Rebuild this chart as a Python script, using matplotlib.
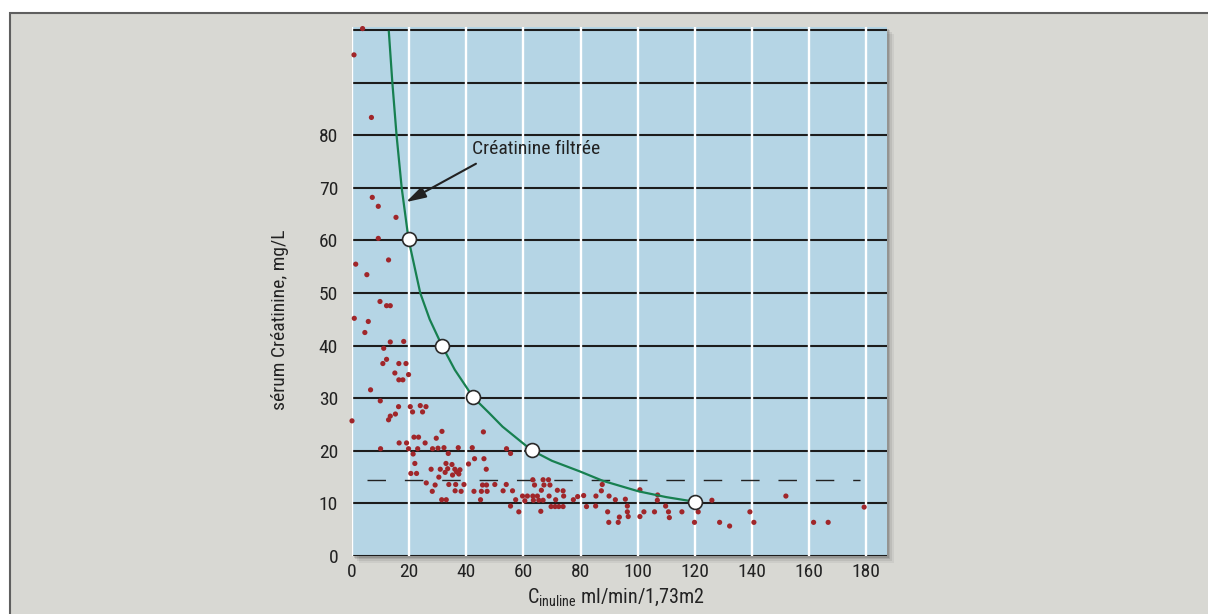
import matplotlib
matplotlib.use("Agg")
import matplotlib.pyplot as plt
from matplotlib import font_manager
from matplotlib.patches import Rectangle

# pick a narrow sans if one is installed, else fall back
installed = {f.name for f in font_manager.fontManager.ttflist}
narrow = None
for cand in ['Liberation Sans Narrow', 'Roboto Condensed', 'Arial Narrow',
             'Open Sans Condensed', 'Noto Sans Display', 'Roboto', 'Liberation Sans']:
    if cand in installed:
        narrow = cand
        break
if narrow is None:
    narrow = 'DejaVu Sans'
plt.rcParams['font.family'] = [narrow, 'DejaVu Sans']
plt.rcParams['font.stretch'] = 'condensed'
plt.rcParams['mathtext.fontset'] = 'custom'
plt.rcParams['mathtext.rm'] = narrow

# patients: inulin clearance (ml/min/1,73m2) vs serum creatinine (mg/L)
clearance = [
    3.7, 0.7, 6.8, 7.1, 9.2, 15.4,
    9.2, 1.3, 12.8, 5.2, 9.8, 12.1, 13.4, 0.8, 5.7, 4.5, 13.4, 18.1, 11.1, 12.1,
    10.8, 16.4, 18.9, 15.0, 19.8, 16.4, 17.8, 6.5, 9.9, 16.3, 20.4, 23.9, 25.9,
    21.2, 24.7, 15.2, 13.4, 12.8, 0.0, 46.0, 31.5, 21.7, 23.3, 29.5, 16.5, 19.1,
    25.6, 10.0, 19.8, 23.0, 28.2, 30.1, 32.2, 37.2, 42.1, 33.7, 21.4, 42.9, 46.2,
    22.0, 32.9, 35.0, 40.8, 27.7, 30.9, 33.5, 36.0, 37.8, 47.0, 32.6, 36.6, 20.6,
    22.6, 35.2, 37.4, 30.4, 26.0, 29.1, 33.9, 36.3, 39.2, 45.7, 47.1, 50.0, 42.7,
    45.3, 47.3, 28.1, 36.1, 38.2, 45.0, 31.4, 33.0,
    54.1, 55.5, 54.0, 52.9, 56.2, 57.3, 55.5, 58.4, 59.7, 60.5, 61.4, 63.3, 63.9,
    63.3, 63.5, 64.9, 65.4, 66.9, 68.8, 67.2, 69.3, 66.3, 66.9, 69.0, 71.9, 73.9,
    74.1, 71.3, 66.1, 69.7, 71.1, 72.4, 73.9, 77.5, 79.0, 81.1, 82.1, 85.3, 85.4,
    87.6, 87.3, 90.0, 92.2, 89.5, 89.9, 93.6, 93.2, 95.7, 96.4, 96.4, 96.7, 100.8,
    100.8, 102.2, 105.9, 107.0, 106.9, 109.8, 110.8, 111.1, 115.5,
    121.0, 121.2, 119.9, 126.0, 128.7, 132.2, 139.3, 140.7, 151.9, 161.6, 166.7,
    179.3,
]
creatinine = [
    100.3, 95.3, 83.4, 68.2, 66.5, 64.4,
    60.4, 55.5, 56.3, 53.5, 48.4, 47.6, 47.6, 45.2, 44.6, 42.5, 40.7, 40.8, 39.5,
    37.4, 36.6, 36.6, 36.6, 34.8, 34.5, 33.5, 33.5, 31.6, 29.5, 28.4, 28.4, 28.6,
    28.4,
    27.4, 27.4, 27.0, 26.6, 25.9, 25.7, 23.6, 23.7, 22.6, 22.6, 22.4, 21.5, 21.5,
    21.5, 20.4, 20.4, 20.4, 20.4, 20.5, 20.6, 20.6, 20.6, 19.5, 19.4, 18.5, 18.5,
    17.6, 17.6, 17.4, 17.5, 16.5, 16.5, 16.6, 16.5, 16.4, 16.5, 15.9, 16.0, 15.7,
    15.7, 15.4, 15.6, 15.0, 13.9, 13.5, 13.6, 13.6, 13.6, 13.5, 13.5, 13.6, 12.3,
    12.3, 12.3, 12.3, 12.4, 12.3, 10.7, 10.7, 10.7,
    20.4, 19.5, 13.6, 12.4, 12.4, 10.7, 9.5, 8.4, 11.4, 10.5, 11.4, 14.5, 13.5,
    11.4, 10.6, 11.4, 10.6, 14.5, 14.5, 13.5, 13.5, 12.5, 10.6, 11.4, 12.5, 12.4,
    11.4, 10.7, 8.5, 9.4, 9.4, 9.4, 9.4, 10.7, 11.3, 11.5, 9.4, 9.5, 11.4,
    13.6, 12.4, 11.4, 10.7, 8.4, 6.4, 7.4, 6.4, 10.8, 9.5, 8.4, 7.5, 12.6,
    7.5, 8.4, 8.4, 11.6, 10.6, 9.5, 8.4, 7.3, 8.4,
    9.4, 8.4, 6.4, 10.6, 6.4, 5.7, 8.4, 6.4, 11.4, 6.4, 6.4,
    9.3,
]

# filtered creatinine curve
curve_x = [12.9, 14.1, 15.6, 17.4, 19.8, 23.9, 27.2, 31.5, 36.0, 42.4, 48.0,
           52.7, 62.9, 70.0, 79.7, 87.8, 100.3, 110.0, 120.2]
curve_y = [99.7, 90.2, 80.0, 70.0, 60.2, 50.0, 45.0, 40.0, 35.4, 30.2, 27.2,
           24.6, 20.1, 18.1, 16.1, 14.3, 12.3, 11.2, 10.3]
circle_x = [19.8, 31.5, 42.4, 62.9, 120.2]
circle_y = [60.2, 40.0, 30.2, 20.1, 10.3]

threshold = 14.4
threshold_range = [5.4, 178.0]

x_grid = list(range(0, 181, 20))
y_grid = list(range(0, 101, 10))
y_labels = [str(v) if v <= 80 else '' for v in y_grid]

W, H = 1208, 614
fig = plt.figure(figsize=(W / 100, H / 100), dpi=100)
fig.patch.set_facecolor('white')

# grey panel with dark border on top/left
fig.patches.append(Rectangle((9.5 / W, -0.05), 1.2, 1 - 12.5 / H + 0.05,
                             transform=fig.transFigure, fc='#d8d8d3',
                             ec='#5f5f5f', lw=1.5, zorder=-10))

left, right, top, bottom = 352, 887, 27, 556
# soft drop shadow
for off, a in [(7, 0.05), (5, 0.07), (3, 0.10), (1.5, 0.12)]:
    fig.patches.append(Rectangle(((left + off) / W, 1 - (bottom + off) / H),
                                 (right - left) / W, (bottom - top) / H,
                                 transform=fig.transFigure, fc='black',
                                 ec='none', alpha=a, zorder=-5))

ax = fig.add_axes([left / W, 1 - bottom / H, (right - left) / W, (bottom - top) / H])
ax.set_facecolor('#b5d5e5')
ax.set_xlim(0, 187.3)
ax.set_ylim(0, 100.6)
for s in ax.spines.values():
    s.set_visible(False)

for v in y_grid:
    ax.axhline(v, color='#1c1c1c', lw=1.5, zorder=1)
for v in x_grid:
    ax.axvline(v, color='white', lw=1.7, zorder=1.1)

ax.plot(threshold_range, [threshold, threshold], color='#222222', lw=1.0,
        dashes=(13.3, 13.6), zorder=2)

ax.scatter(clearance, creatinine, s=14, color='#a0262a', edgecolors='none',
           zorder=3, clip_on=False)

ax.plot(curve_x, curve_y, color='#178050', lw=1.6, zorder=4)
ax.plot(circle_x, circle_y, 'o', ms=10, mfc='white', mec='#2a2a2a', mew=1.2,
        zorder=5)

fs = 14
ax.text(42.0, 76.4, 'Créatinine filtrée', fontsize=fs, color='#222222',
        va='baseline', ha='left', zorder=6)
ax.annotate('', xy=(18.9, 67.3), xytext=(43.4, 74.6),
            arrowprops=dict(arrowstyle='-|>,head_length=1.2,head_width=0.35',
                            color='#222222', lw=1.5, shrinkA=0, shrinkB=0),
            zorder=6)

ax.set_xticks(x_grid)
ax.set_yticks(y_grid)
ax.set_yticklabels(y_labels)
ax.tick_params(axis='both', length=0, labelsize=fs, colors='#222222')
ax.tick_params(axis='y', pad=10)
ax.tick_params(axis='x', pad=5)

ax.set_ylabel('sérum Créatinine, mg/L', fontsize=fs, color='#222222')
ax.yaxis.set_label_coords(-0.118, 45 / 100.6)
ax.set_xlabel(r'C$_{\mathregular{inuline}}$ ml/min/1,73m2', fontsize=14.5,
              color='#222222')
ax.xaxis.set_label_coords(0.493, -0.058)

fig.savefig('out.png', dpi=100)
